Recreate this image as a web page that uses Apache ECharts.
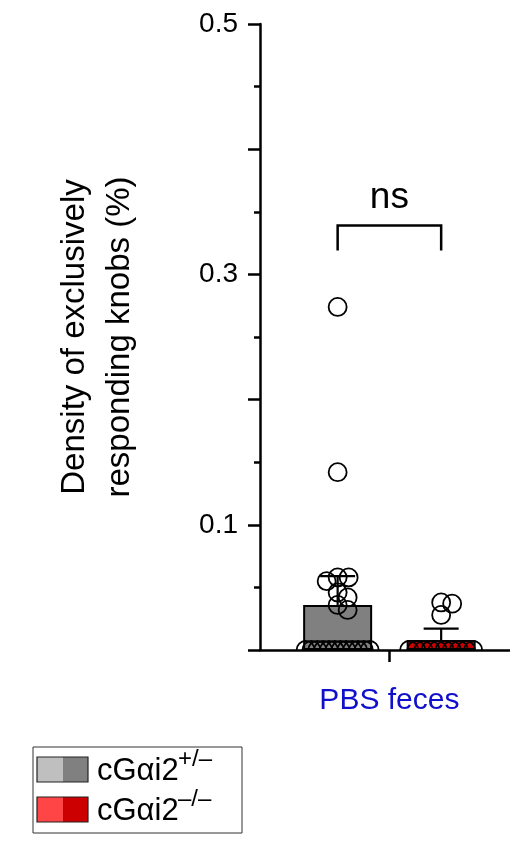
<!DOCTYPE html>
<html>
<head>
<meta charset="utf-8">
<script src="https://cdn.jsdelivr.net/npm/echarts@6/dist/echarts.min.js"></script>
<style>
html, body { margin: 0; padding: 0; background: #fff; }
#chart { width: 510px; height: 864px; }
</style>
</head>
<body>
<div id="chart"></div>
<script>
// 数据
const groupNames = ['cGαi2', 'cGαi2'];
const groupSup = ['+/–', '–/–'];
const groupPos = [1, 2];
const categoryLabel = 'PBS feces';
const meanValues = [0.036, 0.008];
const errorTop = [0.059, 0.017];
const hetPoints = [0.274, 0.142, 0.058, 0.058, 0.055, 0.046, 0.042, 0.036, 0.032, 0, 0, 0, 0, 0, 0, 0, 0, 0, 0, 0, 0];
const koPoints = [0.038, 0.037, 0.028, 0, 0, 0, 0, 0, 0, 0, 0, 0, 0];
const yLabelValues = [0.1, 0.3, 0.5];
const sigText = 'ns';
const sigLevel = [0.339, 0.319];

// 布局
const FONT = '"Liberation Sans", Arial, Helvetica, sans-serif';
const W = 510, H = 864;
const grid = { left: 260, right: 0, top: 24, bottom: 214 };
const yMax = 0.5, xMin = 0.25, xMax = 2.665;
const pxPerX = (W - grid.left - grid.right) / (xMax - xMin);
const pxPerY = (H - grid.top - grid.bottom) / yMax;
const barColors = ['#808080', '#cc0000'];
const swatchColors = [['#bfbfbf', '#808080'], ['#ff4545', '#cc0000']];

// 散点排布: baseline points lined up across the bar, others swarmed
function swarm(values, center, minDist, rowWidth) {
  const zeros = values.filter(v => v === 0);
  const placed = [];
  const out = [];
  zeros.forEach((v, j) => {
    const off = (j / (zeros.length - 1) - 0.5) * rowWidth;
    placed.push({ x: off, y: 0 });
    out.push([center + off / pxPerX, 0]);
  });
  values.filter(v => v !== 0).sort((a, b) => b - a).forEach(v => {
    const yPx = v * pxPerY;
    let off = 0;
    for (let k = 0; k < 500; k++) {
      const cand = k === 0 ? 0 : (k % 2 ? 1 : -1) * Math.ceil(k / 2);
      if (placed.every(p => Math.hypot(p.x - cand, p.y - yPx) >= minDist)) { off = cand; break; }
    }
    placed.push({ x: off, y: yPx });
    out.push([center + off / pxPerX, v]);
  });
  return out;
}

const pointSets = [swarm(hetPoints, groupPos[0], 11, 64), swarm(koPoints, groupPos[1], 11, 64)];

const chart = echarts.init(document.getElementById('chart'));

function circleSeries(data) {
  return {
    type: 'custom',
    clip: true,
    z: 5,
    data: data,
    encode: { x: 0, y: 1 },
    renderItem: function (params, api) {
      const p = api.coord([api.value(0), api.value(1)]);
      return {
        type: 'circle',
        shape: { cx: p[0], cy: p[1], r: 9 },
        style: { fill: 'none', stroke: '#000', lineWidth: 1.8 }
      };
    }
  };
}

// 图例
const legendItems = [];
legendItems.push({
  type: 'rect', shape: { x: 33, y: 747, width: 209, height: 86 },
  style: { fill: '#fff', stroke: '#333', lineWidth: 1 }
});
[757, 797].forEach((top, i) => {
  legendItems.push({
    type: 'rect', shape: { x: 37, y: top, width: 26, height: 25 },
    style: { fill: swatchColors[i][0], stroke: null }
  });
  legendItems.push({
    type: 'rect', shape: { x: 63, y: top, width: 25, height: 25 },
    style: { fill: swatchColors[i][1], stroke: null }
  });
  legendItems.push({
    type: 'rect', shape: { x: 37, y: top, width: 51, height: 25 },
    style: { fill: 'none', stroke: '#222', lineWidth: 1.2 }
  });
  legendItems.push({
    type: 'text', x: 97, y: top + 14,
    style: { text: groupNames[i], font: '31px ' + FONT, fill: '#000', verticalAlign: 'middle', align: 'left' }
  });
  legendItems.push({
    type: 'text', x: 178, y: top + 2,
    style: { text: groupSup[i], font: '24px ' + FONT, fill: '#000', verticalAlign: 'middle', align: 'left' }
  });
});

chart.setOption({
  animation: false,
  backgroundColor: '#fff',
  grid: grid,
  xAxis: {
    type: 'value',
    min: xMin,
    max: xMax,
    splitLine: { show: false },
    axisLine: { show: true, onZero: false, lineStyle: { color: '#000', width: 2.5 } },
    axisTick: { show: true, customValues: [(groupPos[0] + groupPos[1]) / 2], length: 12, lineStyle: { color: '#000', width: 2.5 } },
    axisLabel: {
      customValues: [(groupPos[0] + groupPos[1]) / 2],
      formatter: () => categoryLabel,
      color: '#0f0fcc', fontSize: 30, fontFamily: FONT, margin: 36
    }
  },
  yAxis: {
    type: 'value',
    min: 0,
    max: yMax,
    interval: 0.1,
    name: 'Density of exclusively\nresponding knobs (%)',
    nameLocation: 'middle',
    nameGap: 118,
    nameTextStyle: { fontSize: 33, lineHeight: 45, fontFamily: FONT, color: '#000' },
    splitLine: { show: false },
    axisLine: { show: true, lineStyle: { color: '#000', width: 2.5 } },
    axisTick: { show: true, length: 12, lineStyle: { color: '#000', width: 2.5 } },
    minorTick: { show: true, splitNumber: 2, length: 6, lineStyle: { color: '#000', width: 2.5 } },
    minorSplitLine: { show: false },
    axisLabel: {
      fontSize: 28, fontFamily: FONT, color: '#000', margin: 22,
      formatter: v => yLabelValues.some(t => Math.abs(t - v) < 1e-9) ? String(v) : ''
    }
  },
  series: [
    {
      type: 'bar',
      barWidth: 69,
      z: 2,
      data: groupPos.map((x, i) => ({
        value: [x, meanValues[i]],
        itemStyle: { color: barColors[i], borderColor: '#000', borderWidth: 2 }
      }))
    },
    {
      type: 'custom',
      z: 3,
      data: groupPos.map((x, i) => [x, meanValues[i], errorTop[i]]),
      encode: { x: 0, y: [1, 2] },
      renderItem: function (params, api) {
        const m = api.coord([api.value(0), api.value(1)]);
        const t = api.coord([api.value(0), api.value(2)]);
        const half = 17.5;
        const st = { stroke: '#000', lineWidth: 2.2 };
        return {
          type: 'group',
          children: [
            { type: 'line', shape: { x1: m[0], y1: m[1], x2: t[0], y2: t[1] }, style: st },
            { type: 'line', shape: { x1: t[0] - half, y1: t[1], x2: t[0] + half, y2: t[1] }, style: st }
          ]
        };
      }
    },
    circleSeries(pointSets[0]),
    circleSeries(pointSets[1]),
    {
      type: 'custom',
      z: 6,
      data: [[groupPos[0], groupPos[1], sigLevel[0], sigLevel[1]]],
      encode: { x: [0, 1], y: [2, 3] },
      renderItem: function (params, api) {
        const a = api.coord([api.value(0), api.value(2)]);
        const b = api.coord([api.value(1), api.value(2)]);
        const yb = api.coord([api.value(0), api.value(3)])[1];
        return {
          type: 'group',
          children: [
            {
              type: 'polyline',
              shape: { points: [[a[0], yb], [a[0], a[1]], [b[0], b[1]], [b[0], yb]] },
              style: { stroke: '#000', lineWidth: 2.5, fill: 'none' }
            },
            {
              type: 'text', x: (a[0] + b[0]) / 2, y: a[1] - 9,
              style: { text: sigText, font: '37px ' + FONT, fill: '#000', align: 'center', verticalAlign: 'bottom' }
            }
          ]
        };
      }
    }
  ],
  graphic: legendItems
});
</script>
</body>
</html>
